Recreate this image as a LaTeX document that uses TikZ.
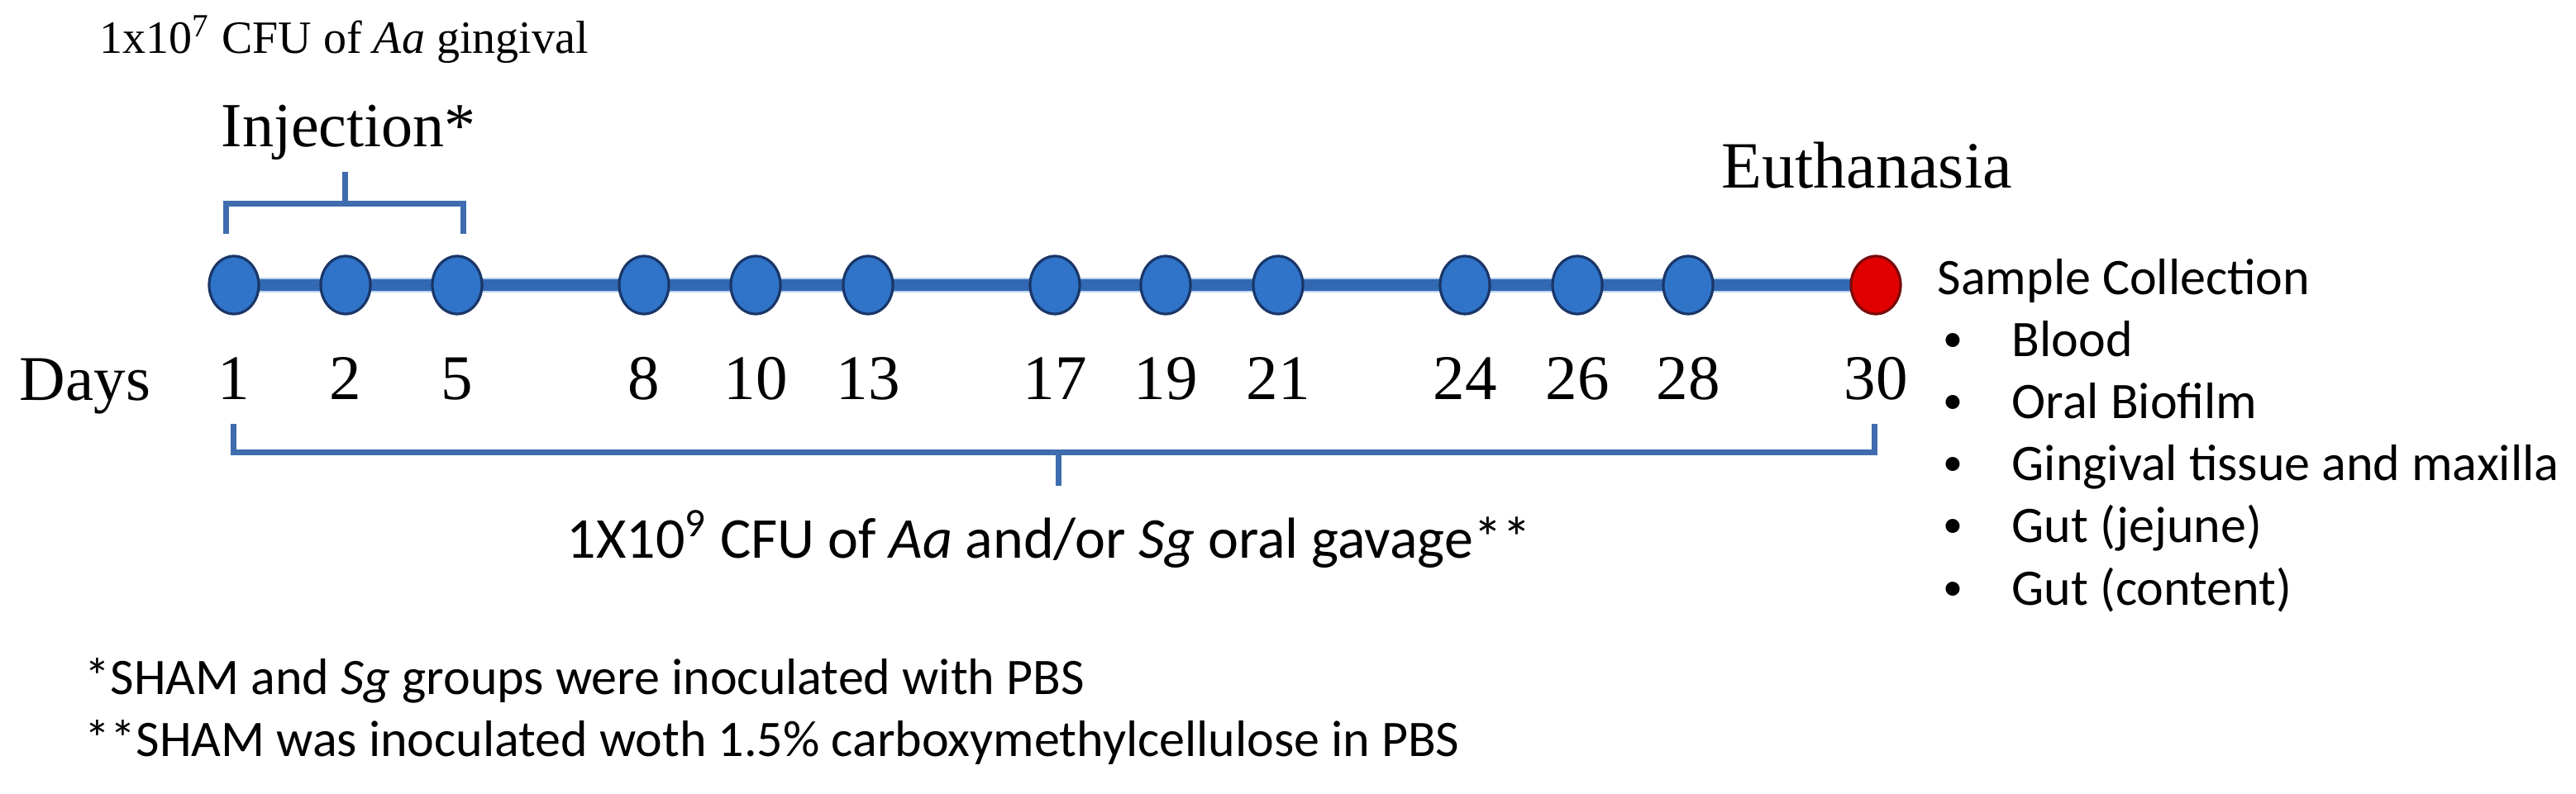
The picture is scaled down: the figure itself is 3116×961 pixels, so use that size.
\documentclass[tikz,border=0pt]{standalone}
\usepackage{fontspec}
\setmainfont{Liberation Serif}
\newfontfamily\carl{Carlito}
\usetikzlibrary{shapes.geometric,backgrounds}
\definecolor{dotblue}{HTML}{2F74C8}
\definecolor{dotedge}{HTML}{1A3668}
\definecolor{lineblue}{HTML}{3369B3}
\definecolor{halo}{HTML}{BCD3EE}
\definecolor{brblue}{HTML}{3E6CAE}
\definecolor{dotred}{HTML}{E10000}
\definecolor{rededge}{HTML}{7A0A0A}
\begin{document}
\begin{tikzpicture}[x=0.25pt,y=-0.25pt,
  dot/.style={ellipse, draw=dotedge, fill=dotblue, line width=0.8pt, minimum width=15pt, minimum height=17.5pt, inner sep=0pt},
  reddot/.style={dot, draw=rededge, fill=dotred},
  daylbl/.style={anchor=base, inner sep=0pt, font=\fontsize{19.25}{22}\selectfont},
  serifbig/.style={anchor=base west, inner sep=0pt, font=\fontsize{19.5}{22}\selectfont},
  sanstxt/.style={anchor=base west, inner sep=0pt, font=\carl\fontsize{15.5}{18}\selectfont},
  brace/.style={draw=brblue, line width=1.75pt},
  tline/.style={draw=lineblue, line width=3.4pt}]
\useasboundingbox (0,0) rectangle (3116,961);

% top texts
\node[anchor=base west, inner sep=0pt, font=\fontsize{14}{16}\selectfont] (dose) at (120,65) {1x10\textsuperscript{7} CFU of \textit{Aa} gingival};
\node[serifbig, font=\fontsize{19}{22}\selectfont] (inj) at (267,178) {Injection*};
\node[serifbig, font=\fontsize{20}{22}\selectfont] (euth) at (2082,228) {Euthanasia};

% timeline dots and day labels
\node[serifbig, font=\fontsize{19.25}{22}\selectfont] (days) at (23,485) {Days};
\foreach \x/\d in {283/1,418/2,553/5,779/8,914/10,1050/13,1276/17,1410/19,1546/21,1772/24,1908/26,2042/28}{
  \node[dot] (c\d) at (\x,345) {};
  \node[daylbl] (l\d) at (\x,484) {\d};
}
\node[reddot] (c30) at (2269,345) {};
\node[daylbl] (l30) at (2269,484) {30};

\begin{scope}[on background layer]
  \fill[white] (0,0) rectangle (3116,961);
  \draw[draw=halo, line width=4.6pt] (c1.center) -- (c30.center);
  \draw[tline] (c1.center) -- (c30.center);
\end{scope}

% injection bracket
\coordinate (ta) at (273,283);
\coordinate (tb) at (273,247);
\coordinate (tc) at (560,247);
\coordinate (td) at (560,283);
\coordinate (tm) at (417,247);
\coordinate (tt) at (417,208);
\draw[brace] (ta) -- (tb) -- (tc) -- (td);
\draw[brace] (tm) -- (tt);

% gavage bracket
\coordinate (ba) at (282,513);
\coordinate (bb) at (282,548);
\coordinate (bc) at (2267,548);
\coordinate (bd) at (2267,513);
\coordinate (bm) at (1280,548);
\coordinate (bt) at (1280,588);
\draw[brace] (ba) -- (bb) -- (bc) -- (bd);
\draw[brace] (bm) -- (bt);

\node[sanstxt, font=\carl\fontsize{17.5}{20}\selectfont] (gav) at (685,675) {1X10\textsuperscript{9} CFU of \textit{Aa} and/or \textit{Sg} oral gavage**};

% sample collection
\node[sanstxt] (sc) at (2343,357) {Sample Collection};
\foreach \i/\t in {0/Blood,1/Oral Biofilm,2/Gingival tissue and maxilla,3/Gut (jejune),4/Gut (content)}{
  \node[sanstxt, font=\carl\fontsize{12}{14}\selectfont] (b\i) at (2350,426+75*\i) {•};
  \node[sanstxt] (s\i) at (2433,432+75*\i) {\t};
}

% footnotes
\node[sanstxt] (f1) at (102,840) {*SHAM and \textit{Sg} groups were inoculated with PBS};
\node[sanstxt] (f2) at (102,915) {**SHAM was inoculated woth 1.5\% carboxymethylcellulose in PBS};
\end{tikzpicture}
\end{document}
